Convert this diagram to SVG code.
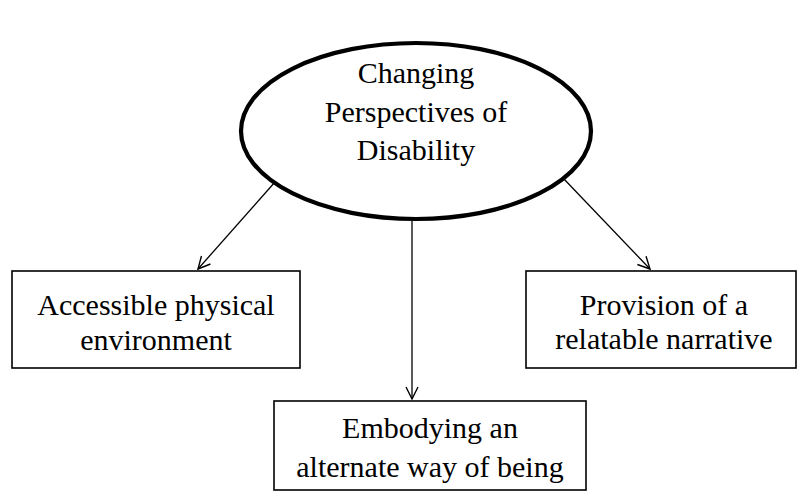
<svg xmlns="http://www.w3.org/2000/svg" width="802" height="495" viewBox="0 0 802 495">
<style>
.t{font-family:"Liberation Serif","Times New Roman",serif;font-size:30px;fill:#000;text-anchor:middle}
.box{fill:none;stroke:#000;stroke-width:1.6}
.con{stroke:#000;stroke-width:1.3;fill:none}
</style>
<defs>
<marker id="arr" markerUnits="userSpaceOnUse" markerWidth="16" markerHeight="16" refX="13" refY="7" orient="auto" viewBox="0 0 16 14">
<path d="M1,1 L13,7 L1,13" fill="none" stroke="#000" stroke-width="1.4"/>
</marker>
</defs>
<rect width="802" height="495" fill="#fff"/>
<g id="connectors">
<line class="con" x1="275" y1="182" x2="198" y2="269" marker-end="url(#arr)"/>
<line class="con" x1="563" y1="178" x2="650" y2="269" marker-end="url(#arr)"/>
<line class="con" x1="412" y1="221" x2="412" y2="399" marker-end="url(#arr)"/>
</g>
<g id="center">
<ellipse cx="416" cy="131" rx="175" ry="88" fill="none" stroke="#000" stroke-width="4.2"/>
<text class="t" x="416" y="83">Changing</text>
<text class="t" x="416" y="122">Perspectives of</text>
<text class="t" x="416" y="160">Disability</text>
</g>
<g id="accessible">
<rect class="box" x="12" y="271" width="288" height="97"/>
<text class="t" x="156" y="315">Accessible physical</text>
<text class="t" x="156" y="350">environment</text>
</g>
<g id="provision">
<rect class="box" x="526" y="271" width="270" height="97"/>
<text class="t" x="664" y="315">Provision of a</text>
<text class="t" x="664" y="349">relatable narrative</text>
</g>
<g id="embodying">
<rect class="box" x="274" y="401" width="312" height="89"/>
<text class="t" x="430" y="438">Embodying an</text>
<text class="t" x="430" y="477">alternate way of being</text>
</g>
</svg>
